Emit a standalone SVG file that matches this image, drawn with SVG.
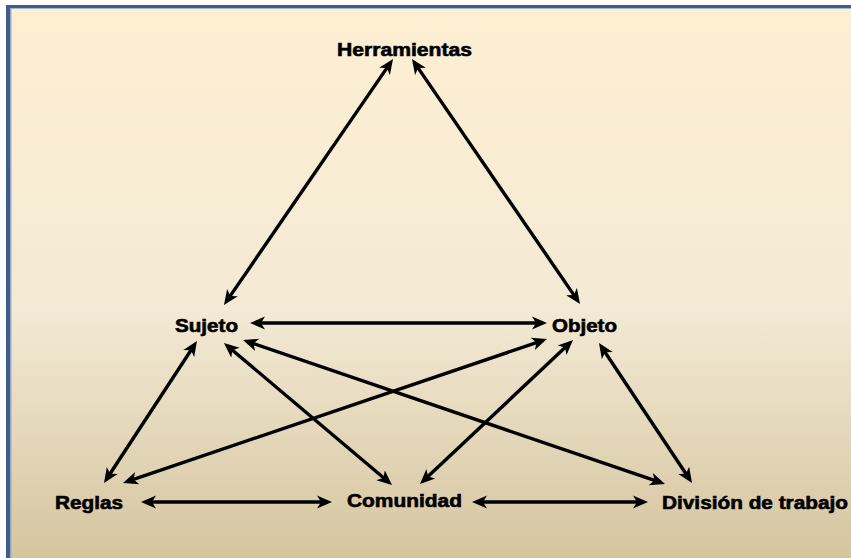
<svg xmlns="http://www.w3.org/2000/svg" width="851" height="558" viewBox="0 0 851 558">
  <defs>
    <linearGradient id="bg" x1="0" y1="0" x2="0" y2="1">
      <stop offset="0" stop-color="#FEEFD2"/>
      <stop offset="0.55" stop-color="#F3EAD5"/>
      <stop offset="1" stop-color="#D5C59F"/>
    </linearGradient>
    <marker id="head" viewBox="0 -8 16 16" markerWidth="16" markerHeight="16" refX="7" refY="0" orient="auto-start-reverse" markerUnits="userSpaceOnUse">
      <path d="M0,-6.5 L15,0 L0,6.5 L4,0 Z" fill="#000"/>
    </marker>
    <style>
      .lbl { font-family: "Liberation Sans", Arial, sans-serif; font-weight: bold; font-size: 18px; fill: #000; stroke: #000; stroke-width: 0.6px; }
      .link { stroke: #000; stroke-width: 3.4; fill: none; marker-start: url(#head); marker-end: url(#head); }
    </style>
  </defs>

  <!-- frame and background -->
  <rect x="0" y="0" width="851" height="558" fill="#FFFFFF"/>
  <rect x="6" y="5" width="845" height="553" fill="url(#bg)"/>
  <rect x="6" y="5" width="845" height="3" fill="#3D5E8C"/>
  <rect x="6" y="5" width="4" height="553" fill="#3D5E8C"/>
  <rect x="10" y="8" width="841" height="1" fill="#A9B6C6"/>
  <rect x="10" y="8" width="1.5" height="550" fill="#9AAAC0"/>

  <!-- connectors: endpoints stop 8px short of each arrow tip -->
  <g id="connectors">
    <line class="link" x1="388.5" y1="65.6" x2="228.5" y2="298.4"/>
    <line class="link" x1="416.5" y1="65.6" x2="575.5" y2="297.4"/>
    <line class="link" x1="258" y1="323" x2="539" y2="323"/>
    <line class="link" x1="192.6" y1="347.7" x2="108.4" y2="476.3"/>
    <line class="link" x1="230.1" y1="348.2" x2="385.9" y2="479.8"/>
    <line class="link" x1="250.6" y1="342.6" x2="657.4" y2="481.4"/>
    <line class="link" x1="539.4" y1="341.6" x2="130.6" y2="480.4"/>
    <line class="link" x1="567.2" y1="345.5" x2="425.8" y2="478.5"/>
    <line class="link" x1="603.4" y1="349.7" x2="687.6" y2="476.3"/>
    <line class="link" x1="149" y1="502" x2="324" y2="502"/>
    <line class="link" x1="480" y1="502" x2="640" y2="502"/>
  </g>

  <!-- nodes -->
  <g id="herramientas">
    <text class="lbl" x="337" y="56" textLength="135" lengthAdjust="spacingAndGlyphs">Herramientas</text>
  </g>
  <g id="sujeto">
    <text class="lbl" x="175" y="332" textLength="63" lengthAdjust="spacingAndGlyphs">Sujeto</text>
  </g>
  <g id="objeto">
    <text class="lbl" x="552" y="332" textLength="65" lengthAdjust="spacingAndGlyphs">Objeto</text>
  </g>
  <g id="reglas">
    <text class="lbl" x="55" y="509" textLength="68" lengthAdjust="spacingAndGlyphs">Reglas</text>
  </g>
  <g id="comunidad">
    <text class="lbl" x="347" y="507" textLength="115" lengthAdjust="spacingAndGlyphs">Comunidad</text>
  </g>
  <g id="division">
    <text class="lbl" x="662" y="509" textLength="186" lengthAdjust="spacingAndGlyphs">División de trabajo</text>
  </g>
</svg>
